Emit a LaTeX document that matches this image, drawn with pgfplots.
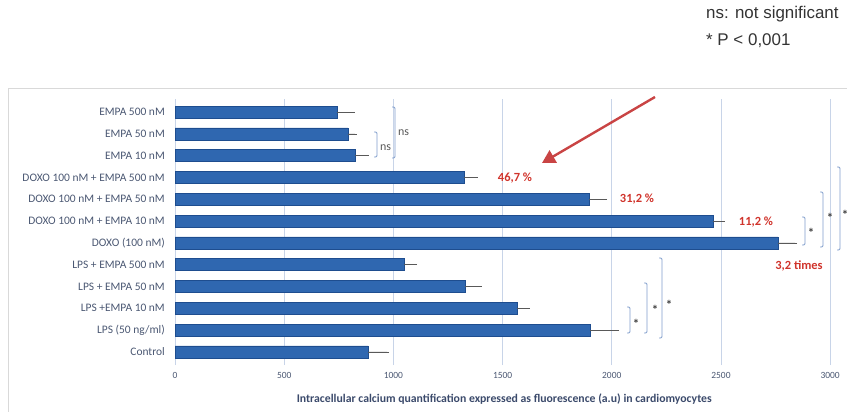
\documentclass[border=0pt]{standalone}
\usepackage{fontspec}
\setmainfont{Carlito}
\newfontfamily\arialf{Liberation Sans}
\usepackage{pgfplots}
\pgfplotsset{compat=1.18}
\usepackage{pgfplotstable}
\usetikzlibrary{arrows.meta}
\definecolor{barblue}{HTML}{2F67B0}
\definecolor{baredge}{HTML}{1E4D8F}
\definecolor{gridc}{HTML}{C8D4E8}
\definecolor{labc}{HTML}{4A5772}
\definecolor{xlabc}{HTML}{3B4A6B}
\definecolor{brkc}{HTML}{7F9DCB}
\definecolor{redc}{HTML}{D0342C}
\definecolor{arrowc}{HTML}{C94444}

\pgfplotstableread{
y val err
0 884 87
1 1900 124
2 1566 50
3 1328 68
4 1049 50
5 2761 78
6 2464 45
7 1896 73
8 1323 55
9 824 55
10 792 32
11 742 73
}\datatable

\newcommand{\bracket}[3]{\draw[brkc, line width=0.9bp, rounded corners=1.2bp] ({#1-3},#2) -- (#1,#2) -- (#1,#3) -- ({#1-3},#3);}

\begin{document}
\begin{tikzpicture}
\path[use as bounding box] (0,0) rectangle (847bp,-412bp);
\draw[black!15, line width=0.8bp] (8bp,-412bp) -- (8bp,-88bp) -- (847bp,-88bp);
\begin{axis}[
  at={(175bp,-365bp)}, anchor=south west,
  scale only axis, width=672bp, height=266bp,
  xmin=0, xmax=3077, ymin=-0.6, ymax=11.6,
  xbar, bar width=12bp,
  xtick={0,500,...,3000},
  ytick={0,...,11},
  yticklabels={Control, LPS (50 ng/ml), LPS +EMPA 10 nM, LPS + EMPA 50 nM, LPS + EMPA 500 nM, DOXO (100 nM), DOXO 100 nM + EMPA 10 nM, DOXO 100 nM + EMPA 50 nM, DOXO 100 nM + EMPA 500 nM, EMPA 10 nM, EMPA 50 nM, EMPA 500 nM},
  axis line style={draw=none},
  major tick length=0,
  xmajorgrids, grid style={gridc, line width=0.7bp},
  /pgf/number format/assume math mode=true,
  scaled x ticks=false,
  /pgf/number format/1000 sep={},
  xticklabel style={font=\fontsize{9.5}{10}\selectfont, text=labc, anchor=center, yshift=-10bp},
  yticklabel style={font=\fontsize{11.5}{12}\selectfont, text=labc, anchor=east, inner sep=0pt, xshift=-10bp},
  xlabel={\textbf{Intracellular calcium quantification expressed as fluorescence (a.u) in cardiomyocytes}},
  xlabel style={font=\fontsize{11.8}{13}\selectfont, text=xlabc, at={(axis description cs:0.49,0)}, anchor=center, yshift=-34bp},
]
\addplot[fill=barblue, draw=baredge, line width=0.6bp,
  error bars/.cd, x dir=plus, x explicit,
  error bar style={black!65, line width=0.7bp},
  error mark options={black!65, mark size=2bp, line width=0.7bp}]
  table[x=val, y=y, x error=err]{\datatable};
\end{axis}
\begin{scope}[x=1bp, y=-1bp]
% ns brackets
\bracket{377}{132}{157}
\bracket{395}{107}{158}
\node[anchor=west, text=black!65, font=\fontsize{12}{13}\selectfont, inner sep=0pt] at (380,148) {ns};
\node[anchor=west, text=black!65, font=\fontsize{12}{13}\selectfont, inner sep=0pt] at (398,133) {ns};
% LPS brackets
\bracket{630}{307}{333}
\bracket{647}{283}{333}
\bracket{662}{258}{338}
\node[font=\bfseries\fontsize{13}{14}\selectfont, text=black!75] at (636,324) {*};
\node[font=\bfseries\fontsize{13}{14}\selectfont, text=black!75] at (655,310) {*};
\node[font=\bfseries\fontsize{13}{14}\selectfont, text=black!75] at (669,305) {*};
% DOXO brackets
\bracket{805}{217}{245}
\bracket{823}{192}{247}
\bracket{840}{167}{250}
\node[font=\bfseries\fontsize{13}{14}\selectfont, text=black!75] at (811,233) {*};
\node[font=\bfseries\fontsize{13}{14}\selectfont, text=black!75] at (830,218) {*};
\node[font=\bfseries\fontsize{13}{14}\selectfont, text=black!75] at (845,215) {*};
% red labels
\node[font=\bfseries\fontsize{12.5}{14}\selectfont, text=redc] at (515,178) {46,7 \%};
\node[font=\bfseries\fontsize{12.5}{14}\selectfont, text=redc] at (637,199) {31,2 \%};
\node[font=\bfseries\fontsize{12.5}{14}\selectfont, text=redc] at (756,222) {11,2 \%};
\node[font=\bfseries\fontsize{12.5}{14}\selectfont, text=redc] at (799,266) {3,2 times};
% arrow
\draw[arrowc, line width=2.4bp, -{Triangle[length=13bp,width=14bp]}] (655,97) -- (542,163);
% legend text
\node[anchor=west, inner sep=0pt, font=\arialf\fontsize{17}{18}\selectfont, text=black!80] at (706,14) {ns: not significant};
\node[anchor=west, inner sep=0pt, font=\arialf\fontsize{17}{18}\selectfont, text=black!80] at (706,41) {* P < 0,001};
\end{scope}
\end{tikzpicture}
\end{document}
